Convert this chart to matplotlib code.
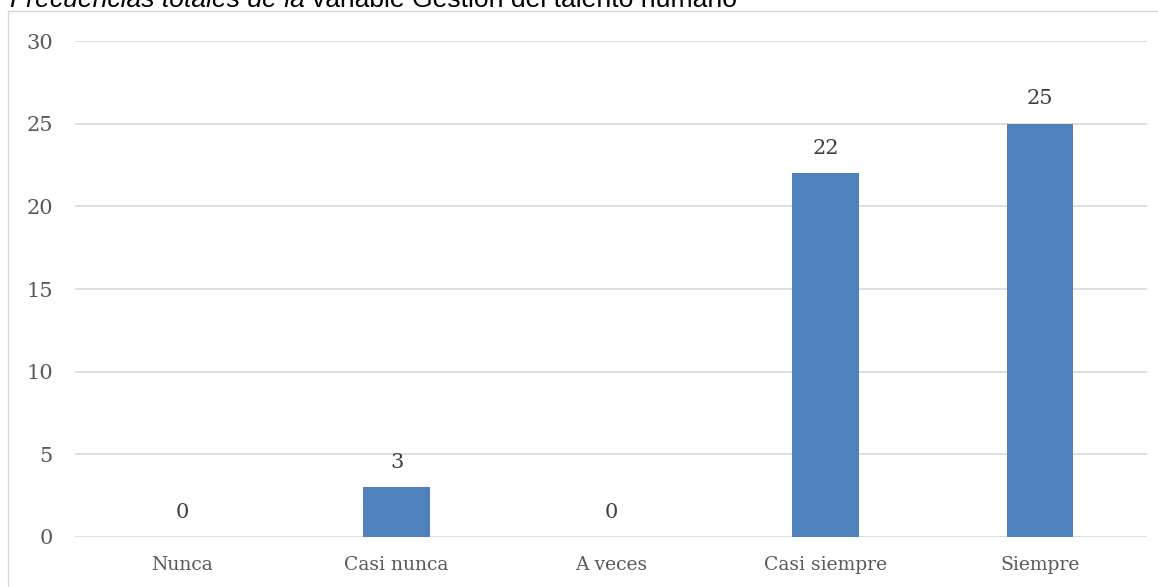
import matplotlib
matplotlib.use("Agg")
import matplotlib.pyplot as plt
from matplotlib.patches import Rectangle

categories = ["Nunca", "Casi nunca", "A veces", "Casi siempre", "Siempre"]
values = [0, 3, 0, 22, 25]
yticks = [0, 5, 10, 15, 20, 25, 30]

W, H = 1158, 587
fig = plt.figure(figsize=(W / 100, H / 100), dpi=100)

# outer chart frame
fig.patches.append(Rectangle((8 / W, -0.01), 1.0, 1 - 11 / H + 0.01,
                             transform=fig.transFigure, fill=False,
                             edgecolor="#d9d9d9", linewidth=1.0))

# caption (italic lead-in followed by upright text), sitting on the frame top
cap_size = 17
x0, base_y = 10, 7
t1 = fig.text(x0 / W, 1 - base_y / H, "Frecuencias totales de la ", style="italic",
              family="Liberation Sans", fontsize=cap_size, color="#000000",
              va="baseline")
renderer = fig.canvas.get_renderer()
w1 = t1.get_window_extent(renderer).width
t2 = fig.text((x0 + w1) / W, 1 - base_y / H, "variable Gestión del talento humano",
              family="Liberation Sans", fontsize=cap_size, color="#000000",
              va="baseline")
w2 = t2.get_window_extent(renderer).width
scale = (737 - x0) / (w1 + w2)
t1.set_fontsize(cap_size * scale)
t2.set_fontsize(cap_size * scale)
w1 = t1.get_window_extent(renderer).width
t2.set_x((x0 + w1) / W)

ax = fig.add_axes([75 / W, 1 - 537 / H, (1147 - 75) / W, (537 - 41) / H])
x = range(len(categories))
bars = ax.bar(x, values, width=0.31, color="#4F81BD", zorder=3)
ax.set_xlim(-0.5, len(categories) - 0.5)
ax.set_ylim(0, 30)
ax.set_yticks(yticks)
ax.set_xticks(list(x))
ax.set_xticklabels(categories)
ax.grid(axis="y", color="#d9d9d9", linewidth=1.2, zorder=0)
for s in ax.spines.values():
    s.set_visible(False)
ax.tick_params(length=0, labelcolor="#595959")
ax.tick_params(axis="y", pad=16)
ax.tick_params(axis="x", pad=14)
for lab in ax.get_xticklabels():
    lab.set_family("DejaVu Serif")
    lab.set_fontsize(13.5)
for lab in ax.get_yticklabels():
    lab.set_family("DejaVu Serif")
    lab.set_fontsize(15)

for xi, v in zip(x, values):
    ax.annotate(str(v), (xi, v), xytext=(0, 14), textcoords="offset points",
                ha="center", va="baseline", fontsize=15, color="#404040",
                family="DejaVu Serif")

fig.savefig("out.png", dpi=100)
